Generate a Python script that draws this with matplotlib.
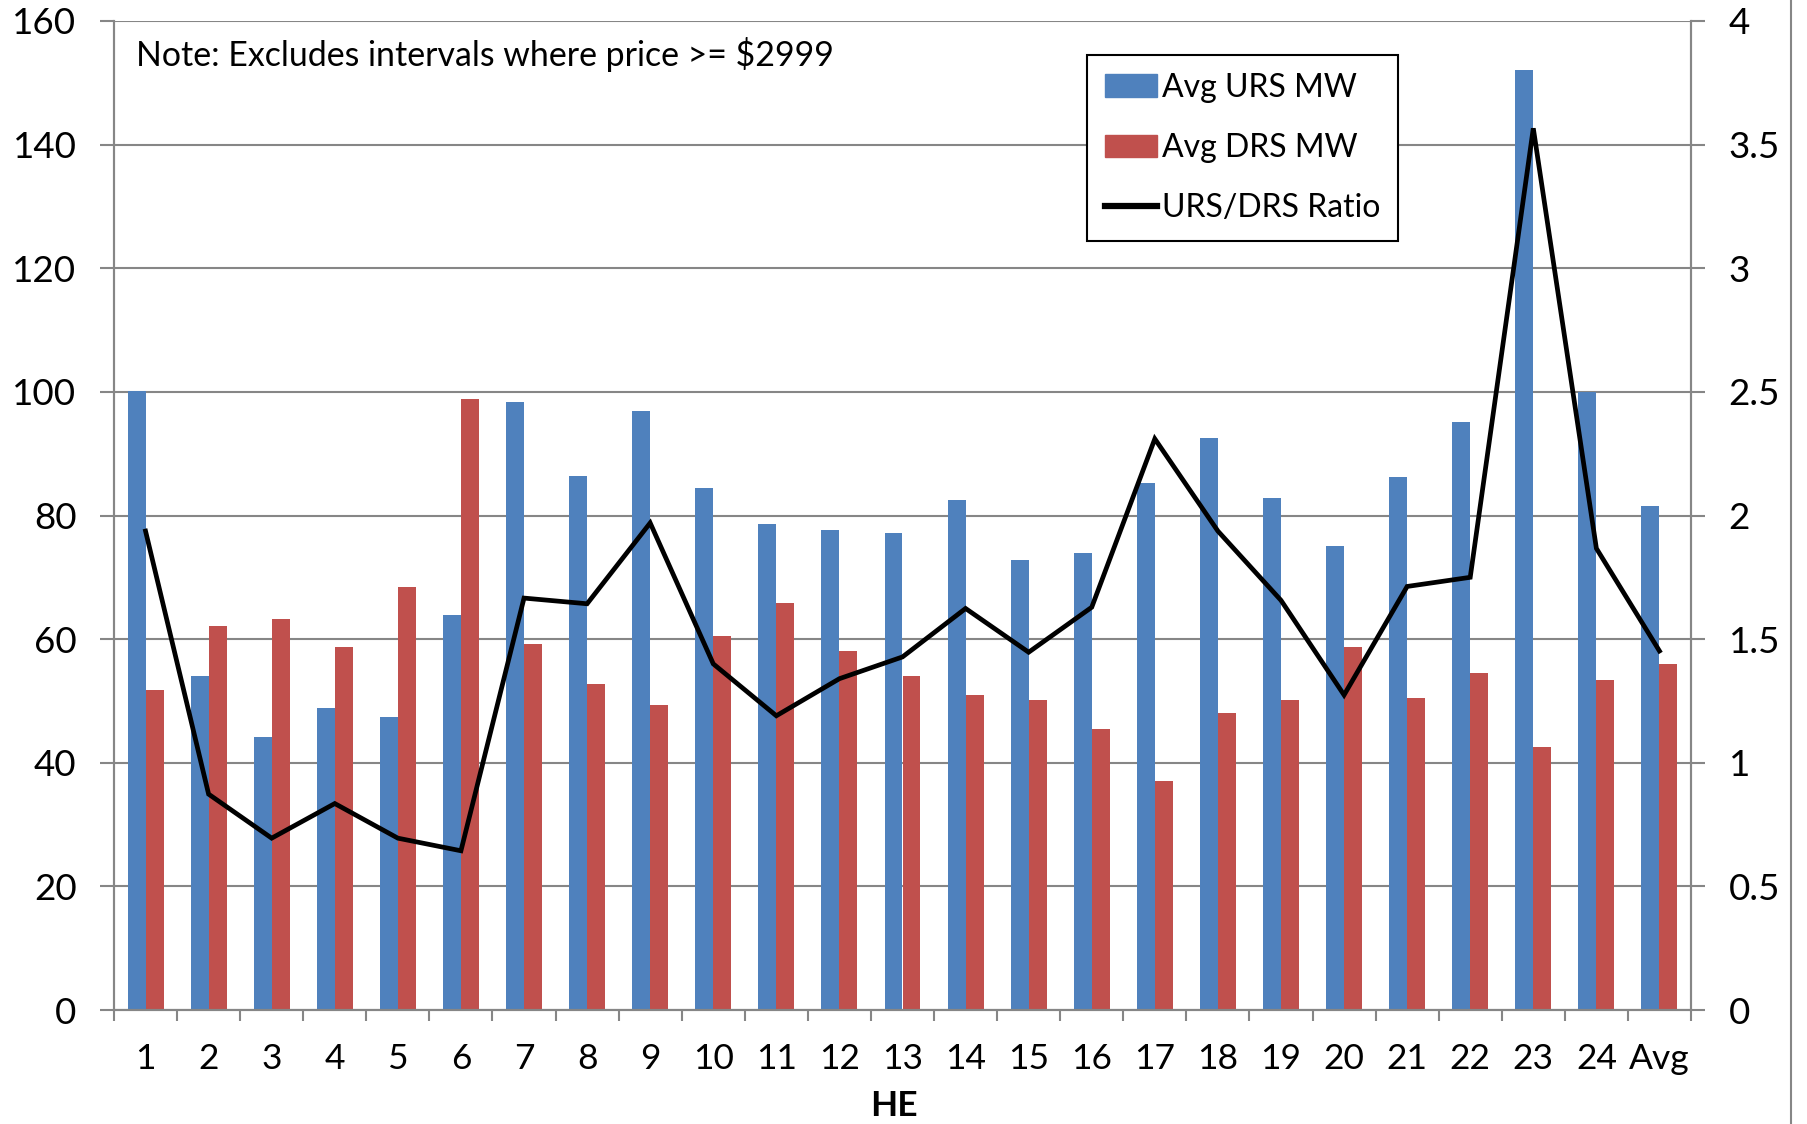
import numpy as np
import matplotlib
matplotlib.use("Agg")
import matplotlib.pyplot as plt
from matplotlib.lines import Line2D

plt.rcParams["font.family"] = ["Lato", "DejaVu Sans"]

# data
hours = [str(h) for h in range(1, 25)] + ["Avg"]
urs_mw = [100.1, 54.1, 44.1, 48.9, 47.4, 63.9, 98.4, 86.4, 96.9, 84.4,
          78.6, 77.7, 77.1, 82.5, 72.8, 73.9, 85.3, 92.6, 82.9, 75.1,
          86.3, 95.2, 152.0, 99.9, 81.6]
drs_mw = [51.7, 62.2, 63.3, 58.8, 68.5, 98.8, 59.2, 52.7, 49.3, 60.5,
          65.9, 58.1, 54.1, 51.0, 50.2, 45.4, 37.0, 48.0, 50.2, 58.8,
          50.4, 54.5, 42.6, 53.4, 56.0]
ratio = [1.937, 0.873, 0.695, 0.835, 0.695, 0.644, 1.666, 1.643, 1.970, 1.400,
         1.190, 1.340, 1.428, 1.624, 1.447, 1.629, 2.310, 1.937, 1.657, 1.274,
         1.713, 1.750, 3.566, 1.867, 1.452]

BLUE = "#4F81BD"
RED = "#C0504D"
GRID = "#868686"

W, H = 1807, 1124
fig = plt.figure(figsize=(W / 100, H / 100), dpi=100)
ax = fig.add_axes([114 / W, 1 - 1010 / H, (1691 - 114) / W, (1010 - 21) / H])
ax2 = ax.twinx()

x = np.arange(len(hours))
bw = 0.285
ax.bar(x - bw / 2, urs_mw, bw, color=BLUE, zorder=2, label="Avg URS MW")
ax.bar(x + bw / 2, drs_mw, bw, color=RED, zorder=2, label="Avg DRS MW")
ax2.plot(x, ratio, color="black", lw=3.4, solid_joinstyle="miter", zorder=3)

ax.set_xlim(-0.5, len(hours) - 0.5)
ax.set_ylim(0, 160)
ax.set_yticks(np.arange(0, 161, 20))
ax2.set_ylim(0, 4)
ax2.set_yticks(np.arange(0, 4.01, 0.5))
ax2.set_yticklabels(["0", "0.5", "1", "1.5", "2", "2.5", "3", "3.5", "4"])

ax.yaxis.grid(True, color=GRID, lw=1.5, zorder=0)
ax.set_axisbelow(True)

# category ticks between groups, labels at centers
ax.set_xticks(np.arange(-0.5, len(hours)), minor=False)
ax.set_xticklabels([])
ax.set_xticks(x, minor=True)
ax.set_xticklabels(hours, minor=True)
ax.tick_params(axis="x", which="major", length=8, width=1.5, color=GRID, direction="out")
ax.tick_params(axis="x", which="minor", length=0, pad=24, labelsize=25.5)
ax.tick_params(axis="y", length=10, width=1.5, color=GRID, pad=17, labelsize=26.5)
ax2.tick_params(axis="y", length=10, width=1.5, color=GRID, pad=17, labelsize=26.5)

for a in (ax, ax2):
    a.spines["top"].set_visible(False)
    for s in ("left", "right", "bottom"):
        a.spines[s].set_color(GRID)
        a.spines[s].set_linewidth(1.5)

fig.text(894 / W, 1 - 1106 / H, "HE", ha="center", va="center",
         fontsize=25.5, fontweight="bold")
fig.text(136 / W, 1 - 54 / H, "Note: Excludes intervals where price >= $2999",
         ha="left", va="center", fontsize=24.4)

handles = [plt.Rectangle((0, 0), 1, 1, color=BLUE),
           plt.Rectangle((0, 0), 1, 1, color=RED),
           Line2D([], [], color="black", lw=4.5)]
labels = ["Avg URS MW", "Avg DRS MW", "URS/DRS Ratio"]
leg = fig.legend(handles, labels, loc="upper left",
                 bbox_to_anchor=(1087 / W, 1 - 55 / H), bbox_transform=fig.transFigure,
                 fontsize=23, frameon=True, fancybox=False, framealpha=1,
                 edgecolor="black", borderpad=0.55, labelspacing=0.95,
                 handlelength=1.65, handletextpad=0.15, borderaxespad=0)
leg.get_frame().set_linewidth(1.5)

# outer chart border on the right edge
fig.add_artist(Line2D([1791 / W, 1791 / W], [0, 1], color=GRID, lw=1.5,
                      transform=fig.transFigure))

fig.savefig("out.png", dpi=100)
